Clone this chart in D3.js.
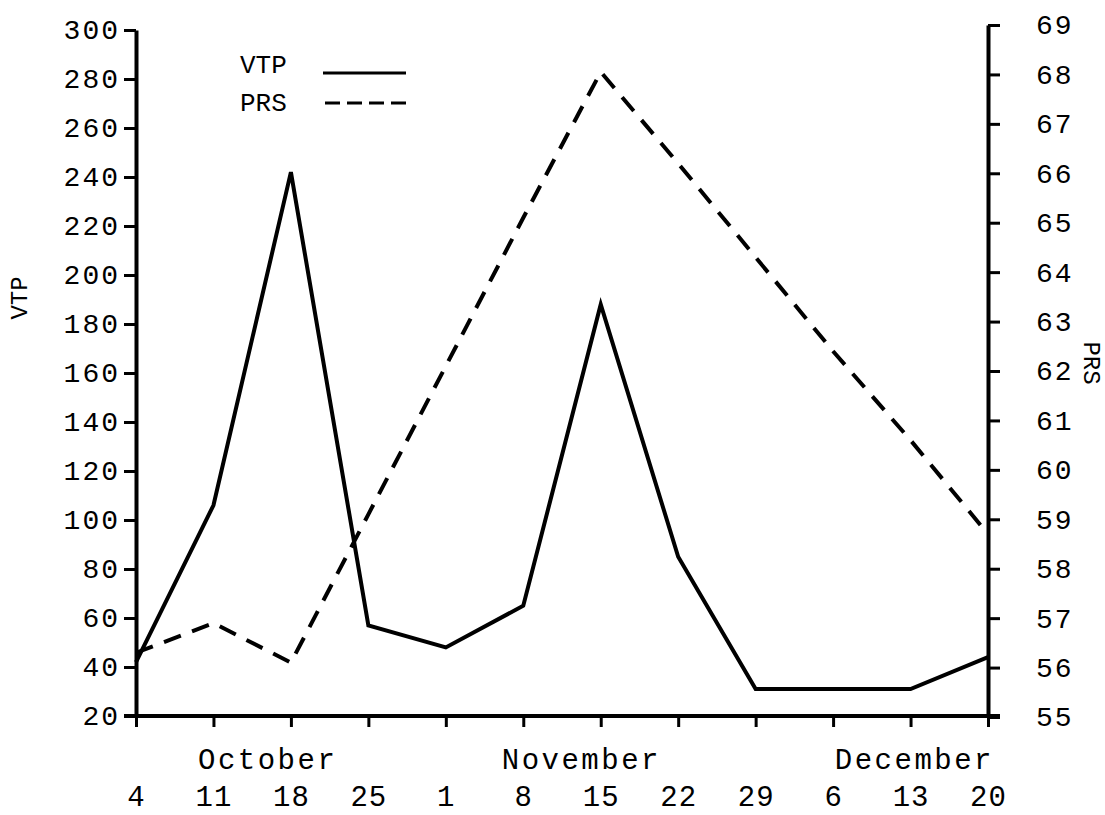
<!DOCTYPE html>
<html>
<head>
<meta charset="utf-8">
<script src="https://cdn.jsdelivr.net/npm/d3@7"></script>
<style>
  body { margin: 0; background: #fff; }
  svg { display: block; }
  .axis path, .axis line { stroke: #000; }
  .axis text { font-family: "Liberation Mono", monospace; fill: #000; }
</style>
</head>
<body>
<svg id="chart" width="1105" height="815"></svg>
<script>
'use strict';

const weeks = ["4", "11", "18", "25", "1", "8", "15", "22", "29", "6", "13", "20"];
const vtp = [42, 106, 242, 57, 48, 65, 188, 85, 31, 31, 31, 44];
const prs = [56.3, 56.9, 56.1, 59.1, 62.1, 65.1, 68.05, 66.2, 64.3, 62.4, 60.6, 58.7];
const vtpTicks = d3.range(20, 301, 20);
const prsTicks = d3.range(55, 70, 1);
const months = ["October", "November", "December"];
const monthPos = [1.7, 5.75, 10.05]; // in week index units

const svg = d3.select("#chart");

const x = d3.scaleLinear().domain([0, weeks.length - 1]).range([136, 988]);
const yL = d3.scaleLinear().domain([20, 300]).range([716, 30]);
const yR = d3.scaleLinear().domain([55, 69]).range([717, 25]);

// x axis
const gx = svg.append("g")
    .attr("class", "axis")
    .attr("transform", "translate(0,716)")
    .call(d3.axisBottom(x)
      .tickValues(d3.range(weeks.length))
      .tickFormat((i) => weeks[i])
      .tickSizeInner(11)
      .tickSizeOuter(0)
      .tickPadding(58));
gx.select(".domain").attr("d", "M124,0H1000").attr("stroke-width", 4);
gx.selectAll(".tick line").attr("stroke-width", 3);
gx.selectAll(".tick text")
    .attr("font-size", 29)
    .attr("letter-spacing", 1);

svg.append("g").selectAll("text")
  .data(months)
  .enter().append("text")
    .attr("x", (d, i) => x(monthPos[i]))
    .attr("y", 769)
    .attr("text-anchor", "middle")
    .attr("font-family", "Liberation Mono, monospace")
    .attr("font-size", 29)
    .attr("letter-spacing", 2.5)
    .text((d) => d);

// left axis
const gl = svg.append("g")
    .attr("class", "axis")
    .attr("transform", "translate(136,0)")
    .call(d3.axisLeft(yL)
      .tickValues(vtpTicks)
      .tickSizeInner(12)
      .tickSizeOuter(0)
      .tickPadding(4));
gl.select(".domain").attr("stroke-width", 4);
gl.selectAll(".tick line").attr("stroke-width", 3);
gl.selectAll(".tick text")
    .attr("font-size", 28)
    .attr("letter-spacing", 2);

// right axis
const gr = svg.append("g")
    .attr("class", "axis")
    .attr("transform", "translate(988,0)")
    .call(d3.axisRight(yR)
      .tickValues(prsTicks)
      .tickSizeInner(12)
      .tickSizeOuter(0)
      .tickPadding(36));
gr.select(".domain").attr("stroke-width", 4);
gr.selectAll(".tick line").attr("stroke-width", 3);
gr.selectAll(".tick text")
    .attr("font-size", 28)
    .attr("letter-spacing", 2);

// axis titles
svg.append("text")
    .attr("transform", "translate(27,298) rotate(-90)")
    .attr("text-anchor", "middle")
    .attr("font-family", "Liberation Mono, monospace")
    .attr("font-size", 24)
    .text("VTP");

svg.append("text")
    .attr("transform", "translate(1084,363) rotate(90)")
    .attr("text-anchor", "middle")
    .attr("font-family", "Liberation Mono, monospace")
    .attr("font-size", 24)
    .text("PRS");

// lines
const lineL = d3.line()
    .x((d, i) => x(i))
    .y((d) => yL(d));
const lineR = d3.line()
    .x((d, i) => x(i))
    .y((d) => yR(d));

svg.append("path")
    .attr("d", lineL(vtp))
    .attr("fill", "none")
    .attr("stroke", "#000")
    .attr("stroke-width", 4)
    .attr("stroke-linejoin", "miter");

svg.append("path")
    .attr("d", lineR(prs))
    .attr("fill", "none")
    .attr("stroke", "#000")
    .attr("stroke-width", 4)
    .attr("stroke-dasharray", "18,12");

// legend
const legend = svg.append("g")
    .attr("font-family", "Liberation Mono, monospace")
    .attr("font-size", 26);

legend.append("text").attr("x", 240).attr("y", 73).text("VTP");
legend.append("line")
    .attr("x1", 323).attr("x2", 406).attr("y1", 73).attr("y2", 73)
    .attr("stroke", "#000").attr("stroke-width", 3);

legend.append("text").attr("x", 240).attr("y", 111).text("PRS");
legend.append("line")
    .attr("x1", 325).attr("x2", 406).attr("y1", 103).attr("y2", 103)
    .attr("stroke", "#000").attr("stroke-width", 3)
    .attr("stroke-dasharray", "15,7");
</script>
</body>
</html>
